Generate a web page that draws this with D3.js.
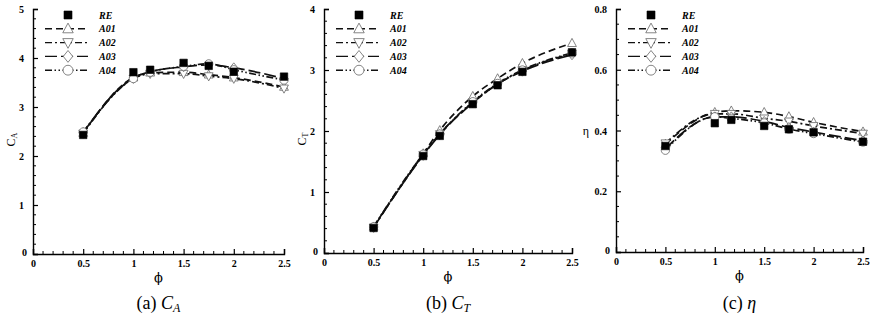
<!DOCTYPE html>
<html>
<head>
<meta charset="utf-8">
<script src="https://cdn.jsdelivr.net/npm/d3@7"></script>
<style>
  html, body { margin: 0; padding: 0; background: #fff; }
  svg { display: block; }
  .tick-label { font-family: "Liberation Serif", "Times New Roman", serif; font-weight: bold; font-size: 10px; fill: #000; }
  .legend-label { font-family: "Liberation Serif", "Times New Roman", serif; font-weight: bold; font-style: italic; font-size: 10px; fill: #000; }
  .axis-title { font-family: "Liberation Serif", "Times New Roman", serif; font-size: 12px; fill: #000; }
  .phi { font-family: "DejaVu Serif", serif; font-size: 13px; fill: #000; }
  .caption { font-family: "Liberation Serif", "Times New Roman", serif; font-size: 18px; fill: #000; }
</style>
</head>
<body>
<svg id="chart" width="878" height="322"></svg>
<script>
// Flow coefficient phi at which each case was evaluated
const phi = [0.5, 1.0, 1.167, 1.5, 1.75, 2.0, 2.5];

const seriesNames = ["RE", "A01", "A02", "A03", "A04"];

// Power coefficient C_A
const caRE  = [2.43, 3.71, 3.76, 3.90, 3.84, 3.72, 3.62];
const caA01 = [2.47, 3.60, 3.70, 3.71, 3.66, 3.60, 3.41];
const caA02 = [2.46, 3.58, 3.68, 3.68, 3.63, 3.58, 3.38];
const caA03 = [2.48, 3.60, 3.72, 3.82, 3.86, 3.80, 3.58];
const caA04 = [2.49, 3.58, 3.71, 3.83, 3.88, 3.76, 3.55];

// Torque coefficient C_T
const ctRE  = [0.41, 1.59, 1.92, 2.44, 2.75, 2.97, 3.29];
const ctA01 = [0.43, 1.63, 2.01, 2.57, 2.86, 3.11, 3.44];
const ctA02 = [0.42, 1.61, 1.95, 2.47, 2.77, 2.99, 3.27];
const ctA03 = [0.42, 1.60, 1.94, 2.46, 2.77, 2.98, 3.25];
const ctA04 = [0.43, 1.62, 1.95, 2.48, 2.78, 3.00, 3.28];

// Efficiency eta
const etaRE  = [0.349, 0.424, 0.435, 0.415, 0.404, 0.394, 0.363];
const etaA01 = [0.355, 0.460, 0.465, 0.460, 0.446, 0.427, 0.396];
const etaA02 = [0.358, 0.455, 0.455, 0.440, 0.430, 0.415, 0.390];
const etaA03 = [0.340, 0.445, 0.445, 0.430, 0.410, 0.395, 0.366];
const etaA04 = [0.335, 0.445, 0.440, 0.425, 0.405, 0.390, 0.362];

// Axis tick values
const xTicks = [0, 0.5, 1, 1.5, 2, 2.5];
const caTicks = [0, 1, 2, 3, 4, 5];
const ctTicks = [0, 1, 2, 3, 4];
const etaTicks = [0, 0.2, 0.4, 0.6, 0.8];

const svg = d3.select("#chart");

const styles = {
  RE:  { marker: "square",   dash: null },
  A01: { marker: "triUp",    dash: "7,4" },
  A02: { marker: "triDown",  dash: "7,3,2,3" },
  A03: { marker: "diamond",  dash: "12,4" },
  A04: { marker: "circle",   dash: "7,2.5,1.5,2.5,1.5,2.5" }
};

function markerPath(type, s) {
  switch (type) {
    case "square":  return d3.symbol(d3.symbolSquare, s * s)();
    case "triUp":   return `M0,${-s*0.6}L${s*0.55},${s*0.42}L${-s*0.55},${s*0.42}Z`;
    case "triDown": return `M0,${s*0.6}L${s*0.55},${-s*0.42}L${-s*0.55},${-s*0.42}Z`;
    case "diamond": return `M0,${-s*0.62}L${s*0.5},0L0,${s*0.62}L${-s*0.5},0Z`;
    case "circle":  return d3.symbol(d3.symbolCircle, Math.PI * (s*0.52) * (s*0.52))();
  }
}

function drawMarker(g, type, x, y, big) {
  const size = type === "square" ? (big ? 8 : 7.5) : (big ? 9.5 : 8);
  const p = g.append("path")
    .attr("d", markerPath(type, size))
    .attr("transform", `translate(${x},${y})`);
  if (type === "square") {
    p.attr("fill", "#000").attr("stroke", "#000").attr("stroke-width", 0.6);
  } else {
    p.attr("fill", "#fff").attr("stroke", "#666").attr("stroke-width", 0.8);
  }
}

function panel(opts) {
  const { x0, x1, yTop, yBot, yMax, yTicks, yMinor, series, yLabel, caption } = opts;
  const g = svg.append("g");
  const x = d3.scaleLinear().domain([0, 2.5]).range([x0, x1]);
  const y = d3.scaleLinear().domain([0, yMax]).range([yBot, yTop]);

  // Y axis with inward ticks
  const yAxis = d3.axisLeft(y).tickValues(yTicks).tickSize(-5).tickPadding(9)
    .tickFormat(d => d3.format("~g")(d));
  const ya = g.append("g").attr("transform", `translate(${x0},0)`).call(yAxis);
  ya.select(".domain").attr("stroke", "#000").attr("stroke-width", 1.4);
  ya.selectAll(".tick line").attr("stroke", "#000").attr("stroke-width", 1.2);
  ya.selectAll(".tick text").attr("class", "tick-label").attr("dy", "0.35em");
  ya.selectAll(".tick").filter(d => d === 0).select("text").attr("dy", "0.1em").attr("x", -6);

  const yMinorTicks = d3.range(0, yMax + 1e-9, yMinor).filter(v => !yTicks.some(t => Math.abs(t - v) < 1e-9));
  g.append("g").selectAll("line").data(yMinorTicks).join("line")
    .attr("x1", x0).attr("x2", x0 + 3)
    .attr("y1", d => y(d)).attr("y2", d => y(d))
    .attr("stroke", "#000").attr("stroke-width", 1);

  // X axis with inward ticks
  const xAxis = d3.axisBottom(x).tickValues(xTicks).tickSize(-5).tickPadding(4)
    .tickFormat(d => d3.format("~g")(d));
  const xa = g.append("g").attr("transform", `translate(0,${yBot})`).call(xAxis);
  xa.select(".domain").attr("stroke", "#000").attr("stroke-width", 1.4);
  xa.selectAll(".tick line").attr("stroke", "#000").attr("stroke-width", 1.2);
  xa.selectAll(".tick text").attr("class", "tick-label").attr("dy", "0.9em");

  const xMinorTicks = d3.range(0, 2.5 + 1e-9, 0.1).filter(v => !xTicks.some(t => Math.abs(t - v) < 1e-9));
  g.append("g").selectAll("line").data(xMinorTicks).join("line")
    .attr("x1", d => x(d)).attr("x2", d => x(d))
    .attr("y1", yBot).attr("y2", yBot - 3)
    .attr("stroke", "#000").attr("stroke-width", 1);

  // Series curves
  const line = d3.line().x((d, i) => x(phi[i])).y(d => y(d)).curve(d3.curveMonotoneX);
  ["A01", "A02", "A03", "A04"].forEach(name => {
    g.append("path").datum(series[name]).attr("d", line)
      .attr("fill", "none").attr("stroke", "#111").attr("stroke-width", 1.7)
      .attr("stroke-dasharray", styles[name].dash);
  });
  // Open markers, then the reference squares on top
  ["A01", "A02", "A03", "A04", "RE"].forEach(name => {
    series[name].forEach((v, i) => drawMarker(g, styles[name].marker, x(phi[i]), y(v), false));
  });

  // Legend
  const lx0 = x0 + 12, lx1 = x0 + 55, lm = x0 + 35, lt = x0 + 66;
  seriesNames.forEach((name, i) => {
    const ly = 15 + i * 13.8;
    if (name !== "RE") {
      g.append("line").attr("x1", lx0).attr("x2", lx1).attr("y1", ly).attr("y2", ly)
        .attr("stroke", "#111").attr("stroke-width", 1.4)
        .attr("stroke-dasharray", styles[name].dash);
    }
    drawMarker(g, styles[name].marker, lm, ly, true);
    g.append("text").attr("class", "legend-label").attr("x", lt).attr("y", ly + 3.5).text(name);
  });

  // Axis titles
  const midY = (yTop + yBot) / 2 + 8;
  if (yLabel.rotate) {
    const t = g.append("text").attr("class", "axis-title")
      .attr("transform", `translate(${x0 - 18},${midY}) rotate(-90)`)
      .attr("text-anchor", "middle");
    t.append("tspan").text(yLabel.main);
    t.append("tspan").attr("font-size", "8px").attr("dy", "2").text(yLabel.sub);
  } else {
    g.append("text").attr("class", "axis-title").attr("font-size", "14px")
      .attr("x", x0 - 30).attr("y", midY - 4).attr("text-anchor", "middle").text(yLabel.main);
  }
  g.append("text").attr("class", "phi")
    .attr("x", (x0 + x1) / 2).attr("y", yBot + 28).attr("text-anchor", "middle").text("ϕ");

  // Caption
  const c = g.append("text").attr("class", "caption")
    .attr("x", (x0 + x1) / 2).attr("y", 309).attr("text-anchor", "middle");
  c.append("tspan").text(caption.prefix + " ");
  c.append("tspan").attr("font-style", "italic").text(caption.main);
  if (caption.sub) {
    c.append("tspan").attr("font-style", "italic").attr("font-size", "12px").attr("dy", "3").text(caption.sub);
  }
}

panel({
  x0: 33, x1: 284, yTop: 9, yBot: 254, yMax: 5, yTicks: caTicks, yMinor: 0.2,
  series: { RE: caRE, A01: caA01, A02: caA02, A03: caA03, A04: caA04 },
  yLabel: { rotate: true, main: "C", sub: "A" },
  caption: { prefix: "(a)", main: "C", sub: "A" }
});
panel({
  x0: 324, x1: 572, yTop: 9, yBot: 253, yMax: 4, yTicks: ctTicks, yMinor: 0.2,
  series: { RE: ctRE, A01: ctA01, A02: ctA02, A03: ctA03, A04: ctA04 },
  yLabel: { rotate: true, main: "C", sub: "T" },
  caption: { prefix: "(b)", main: "C", sub: "T" }
});
panel({
  x0: 616, x1: 863, yTop: 9, yBot: 252, yMax: 0.8, yTicks: etaTicks, yMinor: 0.05,
  series: { RE: etaRE, A01: etaA01, A02: etaA02, A03: etaA03, A04: etaA04 },
  yLabel: { rotate: false, main: "η" },
  caption: { prefix: "(c)", main: "η" }
});
</script>
</body>
</html>
